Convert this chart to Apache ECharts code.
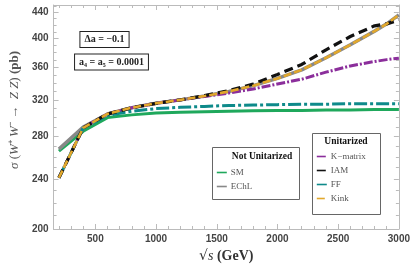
<!DOCTYPE html>
<html><head><meta charset="utf-8">
<script src="https://cdn.jsdelivr.net/npm/echarts@6/dist/echarts.min.js"></script>
<style>html,body{margin:0;padding:0;background:#fff}#c{width:413px;height:268px}</style>
</head><body><div id="c"></div>
<script>
const energies   = [200, 400, 600, 800, 1000, 1200, 1400, 1600, 1800, 2000, 2200, 2400, 2600, 2800, 2900, 3000];
const smValues   = [265.5, 285.5, 300, 303, 305, 306, 306.5, 307, 307.5, 308, 308, 308.5, 308.5, 309, 309, 309];
const echlValues = [267.5, 290, 304, 311, 316, 320, 324.5, 330, 337, 346, 357, 373, 391, 411, 422, 436];
const kmatValues = [241, 289, 304, 311, 316, 320, 324, 328, 333, 339, 345, 354, 362, 368, 370.5, 372.5];
const iamValues  = [241, 289, 304, 311, 316, 320, 325, 331, 339, 351, 364, 384, 403, 419, 422, 428];
const ffValues   = [241, 289, 302.5, 307, 310, 311.5, 312.5, 313.5, 314, 314.5, 315, 315, 315.5, 315.5, 315.5, 315.5];
const kinkValues = [241, 289, 304, 311, 316, 320, 324.5, 330, 337, 346, 357, 373, 391, 411, 422, 436];

const xMajorTicks = [500, 1000, 1500, 2000, 2500, 3000];
const xMinorTicks = [200, 300, 400, 600, 700, 800, 900, 1100, 1200, 1300, 1400, 1600, 1700, 1800, 1900, 2100, 2200, 2300, 2400, 2600, 2700, 2800, 2900];
const yMajorTicks = [200, 240, 280, 320, 360, 400, 440];
const yMinorTicks = [210, 220, 230, 250, 260, 270, 290, 300, 310, 330, 340, 350, 370, 380, 390, 410, 420, 430, 450];

const X_MIN = 156, X_MAX = 3000, Y_MIN = 200, Y_MAX = 452;
const frameColor = '#bbbbbb';
const labelStyle = {fontFamily: 'Liberation Sans', fontWeight: 'bold', fontSize: 10, color: '#444'};
const plainNumber = v => String(Math.round(v));

function xAx(pos, major, withLabels) {
  return {
    type: 'value', position: pos, min: X_MIN, max: X_MAX,
    axisLine: {show: major, lineStyle: {color: frameColor, width: 1}},
    axisTick: {show: true, inside: true, length: major ? 5 : 3, customValues: major ? xMajorTicks : xMinorTicks, lineStyle: {color: frameColor}},
    axisLabel: Object.assign({show: withLabels, customValues: xMajorTicks, margin: 5, formatter: plainNumber}, labelStyle),
    splitLine: {show: false}
  };
}
function yAx(pos, major, withLabels) {
  return {
    type: 'log', logBase: 10, position: pos, min: Y_MIN, max: Y_MAX,
    axisLine: {show: major, lineStyle: {color: frameColor, width: 1}},
    axisTick: {show: true, inside: true, length: major ? 5 : 3, customValues: major ? yMajorTicks : yMinorTicks, lineStyle: {color: frameColor}},
    axisLabel: Object.assign({show: withLabels, customValues: yMajorTicks, margin: 5, formatter: plainNumber}, labelStyle),
    splitLine: {show: false}, minorTick: {show: false}
  };
}

const xAxes = [xAx('bottom', true, true), xAx('bottom', false, false), xAx('top', true, false), xAx('top', false, false)];
xAxes[0].name = '{r|√}{i|s}{b| (GeV)}';
xAxes[0].nameLocation = 'middle';
xAxes[0].nameGap = 19;
xAxes[0].nameTextStyle = {rich: {
  r: {fontFamily: 'DejaVu Serif', fontSize: 14, color: '#333'},
  i: {fontFamily: 'Liberation Serif', fontStyle: 'italic', fontSize: 14, color: '#333'},
  b: {fontFamily: 'Liberation Serif', fontWeight: 'bold', fontSize: 14, color: '#333'}
}};
const yAxes = [yAx('left', true, true), yAx('left', false, false), yAx('right', true, false), yAx('right', false, false)];
yAxes[0].name = '{i|σ} {n|(}{i|W}{n|⁺ }{i|W}{n|⁻ →  }{i|Z Z}{n|) }{b|(pb)}';
yAxes[0].nameLocation = 'middle';
yAxes[0].nameRotate = 90;
yAxes[0].nameGap = 26;
yAxes[0].nameTextStyle = {padding: [0, 0, 0, 14], rich: {
  i: {fontFamily: 'Liberation Serif', fontStyle: 'italic', fontSize: 13, color: '#555'},
  n: {fontFamily: 'Liberation Serif', fontSize: 13, color: '#555'},
  b: {fontFamily: 'Liberation Serif', fontWeight: 'bold', fontSize: 13, color: '#555'}
}};

function mk(name, vals, color, width, type, z) {
  return {
    name: name, type: 'line', xAxisIndex: 0, yAxisIndex: 0, symbol: 'none', smooth: false,
    data: energies.map((e, i) => [e, vals[i]]), z: z,
    lineStyle: {color: color, width: width, type: type, cap: 'butt'},
    itemStyle: {color: color}, emphasis: {disabled: true}
  };
}

const series = [
  mk('SM', smValues, '#1fa85c', 3, 'solid', 2),
  mk('EChL', echlValues, '#888888', 3.5, 'solid', 3),
  mk('K−matrix', kmatValues, '#8b2e9b', 3, [9, 2, 2, 2], 4),
  mk('FF', ffValues, '#0e8a8a', 3, [13, 3, 3, 3], 5),
  mk('IAM', iamValues, '#111111', 3.2, [9, 5], 6),
  mk('Kink', kinkValues, '#e2a82c', 2.6, [8, 3], 7)
];

const legendCommon = {
  orient: 'vertical', itemWidth: 10, itemHeight: 10, itemGap: 5, padding: 0, selectedMode: false,
  itemStyle: {opacity: 0}, lineStyle: {width: 1.6},
  textStyle: {fontFamily: 'Liberation Serif', fontSize: 9, color: '#555', padding: [0, 0, 0, -1]}
};

const option = {
  animation: false,
  backgroundColor: '#fff',
  grid: {left: 40, right: 13, top: 5, bottom: 39, containLabel: false},
  xAxis: xAxes,
  yAxis: yAxes,
  series: series,
  legend: [
    Object.assign({data: ['SM', 'EChL'], left: 216, top: 168, z: 10}, legendCommon),
    Object.assign({data: ['K−matrix', 'IAM', 'FF', 'Kink'], left: 316, top: 152, z: 10}, legendCommon)
  ],
  graphic: [
    {type: 'rect', z: 8, shape: {x: 212.5, y: 147.5, width: 87, height: 52}, style: {fill: '#fff', stroke: '#666', lineWidth: 1}},
    {type: 'rect', z: 8, shape: {x: 312.5, y: 133.5, width: 68, height: 81}, style: {fill: '#fff', stroke: '#666', lineWidth: 1}},
    {type: 'text', z: 11, x: 262, y: 157, style: {text: 'Not Unitarized', fontFamily: 'Liberation Serif', fontWeight: 'bold', fontSize: 9.5, fill: '#111', align: 'center', verticalAlign: 'middle'}},
    {type: 'text', z: 11, x: 346, y: 142, style: {text: 'Unitarized', fontFamily: 'Liberation Serif', fontWeight: 'bold', fontSize: 9.5, fill: '#111', align: 'center', verticalAlign: 'middle'}},
    {type: 'text', z: 11, x: 104.5, y: 39.5, style: {text: 'Δa = −0.1', fontFamily: 'Liberation Serif', fontWeight: 'bold', fontSize: 10, fill: '#222', align: 'center', verticalAlign: 'middle', backgroundColor: '#fff', borderColor: '#222', borderWidth: 1, padding: [3, 4, 2, 4]}},
    {type: 'text', z: 11, x: 111.5, y: 62, style: {text: 'a₄ = a₅ = 0.0001', fontFamily: 'Liberation Serif', fontWeight: 'bold', fontSize: 10, fill: '#222', align: 'center', verticalAlign: 'middle', backgroundColor: '#fff', borderColor: '#222', borderWidth: 1, padding: [3, 4, 2, 4]}}
  ]
};

const chart = echarts.init(document.getElementById('c'), null, {renderer: 'canvas'});
chart.setOption(option);
</script>
</body></html>
